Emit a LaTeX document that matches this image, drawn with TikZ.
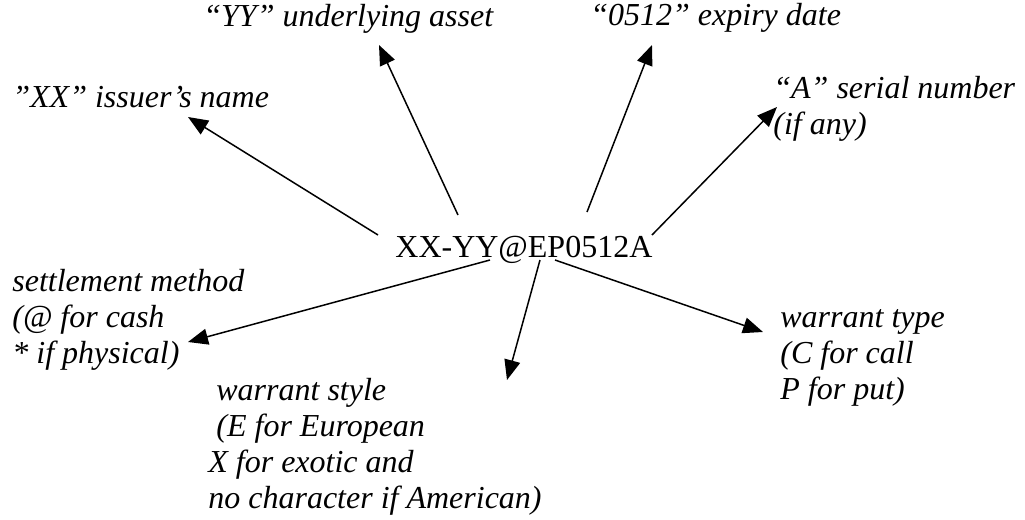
\documentclass[tikz,border=0pt]{standalone}
\usepackage{fontspec}
\setmainfont{Liberation Serif}
\usetikzlibrary{arrows.meta}

\begin{document}
\begin{tikzpicture}[x=0.5pt, y=-0.5pt,
    every node/.style={inner sep=0pt, font=\fontsize{16}{18}\selectfont},
    part/.style={anchor=base west, align=left, font=\fontsize{16}{18}\selectfont\itshape},
    pointer/.style={-{Triangle[length=10pt, width=8pt]}, line width=0.75pt}]
    \useasboundingbox (0,0) rectangle (1025,520);

    % Code in the middle
    \node (code) [anchor=base west] at (395,257) {XX-YY@EP0512A};

    % Parts above (base = last line)
    \node (issuer) [part] at (12,107) {\symbol{34}XX” issuer’s name};
    \node (asset) [part] at (203,26) {“YY” underlying asset};
    \node (expiry) [part] at (590,25) {“0512” expiry date};
    \node (serial) [part] at (773,134) {“A” serial number\\(if any)};

    % Parts below
    \node (settle) [part] at (12,363) {settlement method\\(@ for cash\\* if physical)};
    \node (style) [part] at (208,508) {\ warrant style\\\ (E for European\\X for exotic and\\no character if American)};
    \node (type) [part] at (780,399) {warrant type\\(C for call\\P for put)};

    % Arrow ends
    \coordinate (issuer-tail) at (378,235);
    \coordinate (issuer-tip) at (188,117);
    \coordinate (asset-tail) at (458,215);
    \coordinate (asset-tip) at (379,45);
    \coordinate (expiry-tail) at (587,212);
    \coordinate (expiry-tip) at (652,45);
    \coordinate (serial-tail) at (652,235);
    \coordinate (serial-tip) at (777,107);
    \coordinate (settle-tail) at (490,260);
    \coordinate (settle-tip) at (188,342);
    \coordinate (style-tail) at (540,260);
    \coordinate (style-tip) at (507,380);
    \coordinate (type-tail) at (555,260);
    \coordinate (type-tip) at (763,332);

    % Arrows
    \draw[pointer] (issuer-tail) -- (issuer-tip);
    \draw[pointer] (asset-tail) -- (asset-tip);
    \draw[pointer] (expiry-tail) -- (expiry-tip);
    \draw[pointer] (serial-tail) -- (serial-tip);
    \draw[pointer] (settle-tail) -- (settle-tip);
    \draw[pointer] (style-tail) -- (style-tip);
    \draw[pointer] (type-tail) -- (type-tip);
\end{tikzpicture}
\end{document}
